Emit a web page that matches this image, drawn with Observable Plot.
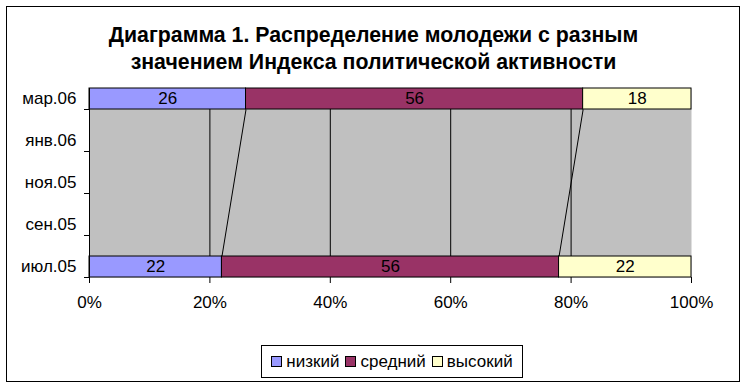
<!DOCTYPE html>
<html><head><meta charset="utf-8">
<script src="https://cdn.jsdelivr.net/npm/d3@7"></script>
<script src="https://cdn.jsdelivr.net/npm/@observablehq/plot@0.6"></script>
<style>
body{margin:0;background:#fff;font-family:"Liberation Sans",Arial,sans-serif;}
#wrap{position:relative;width:747px;height:389px;overflow:hidden;}
#border{position:absolute;left:6px;top:6px;width:732px;height:374px;border:1.5px solid #000;box-sizing:content-box;}
#title{position:absolute;left:0;top:22px;width:747px;text-align:center;font-weight:bold;font-size:21.3px;line-height:27px;color:#000;}
#chart{position:absolute;left:0;top:0;}
#legend{position:absolute;left:261px;top:345px;width:260px;height:31px;border:1px solid #000;display:flex;align-items:center;justify-content:center;gap:0;font-size:17px;}
#legend span.item{display:flex;align-items:center;margin:0 3px;}
#legend span.sw{display:inline-block;width:9px;height:9px;border:1px solid #000;margin-right:4px;}
</style></head>
<body><div id="wrap"><div id="border"></div><div id="title">Диаграмма 1. Распределение молодежи с разным<br>значением Индекса политической активности</div><div id="chart"></div><div id="legend"></div></div>
<script>
const categories = ["июл.05","сен.05","ноя.05","янв.06","мар.06"];
const series = ["низкий","средний","высокий"];
const colors = ["#9999FF","#993366","#FFFFCC"];
const jul05 = [22,56,22];
const mar06 = [26,56,18];
const xTicks = [0,20,40,60,80,100];

const rows = [];
[[categories[0], jul05],[categories[4], mar06]].forEach(([c, vals]) => {
  let acc = 0;
  vals.forEach((v, k) => {
    rows.push({cat: c, idx: categories.indexOf(c), series: series[k], value: v, x1: acc, x2: acc + v});
    acc += v;
  });
});
const half = 0.25;
const links = [];
for (let k = 0; k < series.length - 1; k++) {
  const a = mar06.slice(0, k+1).reduce((s,v)=>s+v,0);
  const b = jul05.slice(0, k+1).reduce((s,v)=>s+v,0);
  links.push({xa: a, ya: categories.indexOf("мар.06") - half, xb: b, yb: categories.indexOf("июл.05") + half});
}
const idxs = categories.map((c,i)=>i);

const chart = Plot.plot({
  width: 747, height: 389,
  marginLeft: 89, marginRight: 56, marginTop: 88, marginBottom: 112,
  style: {fontFamily: "Liberation Sans, Arial, sans-serif", fontSize: "17px", background: "transparent", color: "#000"},
  x: {domain: [0,100], ticks: xTicks},
  y: {domain: [-half, categories.length - 1 + half]},
  color: {domain: series, range: colors},
  marks: [
    Plot.frame({fill: "#c0c0c0", stroke: null}),
    Plot.ruleX(xTicks.filter(t => t > 0 && t < 100), {stroke: "#000", strokeWidth: 1}),
    Plot.link(links, {x1: "xa", y1: "ya", x2: "xb", y2: "yb", stroke: "#000", strokeWidth: 1}),
    Plot.rect(rows, {x1: "x1", x2: "x2", y1: d => d.idx - half, y2: d => d.idx + half, fill: "series", stroke: "#000", strokeWidth: 1, inset: 0}),
    Plot.text(rows, {x: d => (d.x1 + d.x2)/2, y: "idx", text: d => String(d.value), fill: "#000", fontSize: 17}),
    Plot.ruleX([0], {stroke: "#000"}),
    Plot.axisX({ticks: xTicks, tickFormat: d => d + "%", tickSize: 6, tickPadding: 12, fontSize: 17, anchor: "bottom"}),
    Plot.axisY({ticks: idxs.map(i => i - half), tickFormat: () => "", tickSize: 5, anchor: "left"}),
    Plot.axisY({ticks: idxs, tickFormat: i => categories[i], tickSize: 0, tickPadding: 13, fontSize: 17, anchor: "left"})
  ]
});
document.getElementById("chart").appendChild(chart);

const leg = document.getElementById("legend");
series.forEach((s, k) => {
  const it = document.createElement("span"); it.className = "item";
  const sw = document.createElement("span"); sw.className = "sw"; sw.style.background = colors[k];
  it.appendChild(sw); it.appendChild(document.createTextNode(s));
  leg.appendChild(it);
});
</script></body></html>
